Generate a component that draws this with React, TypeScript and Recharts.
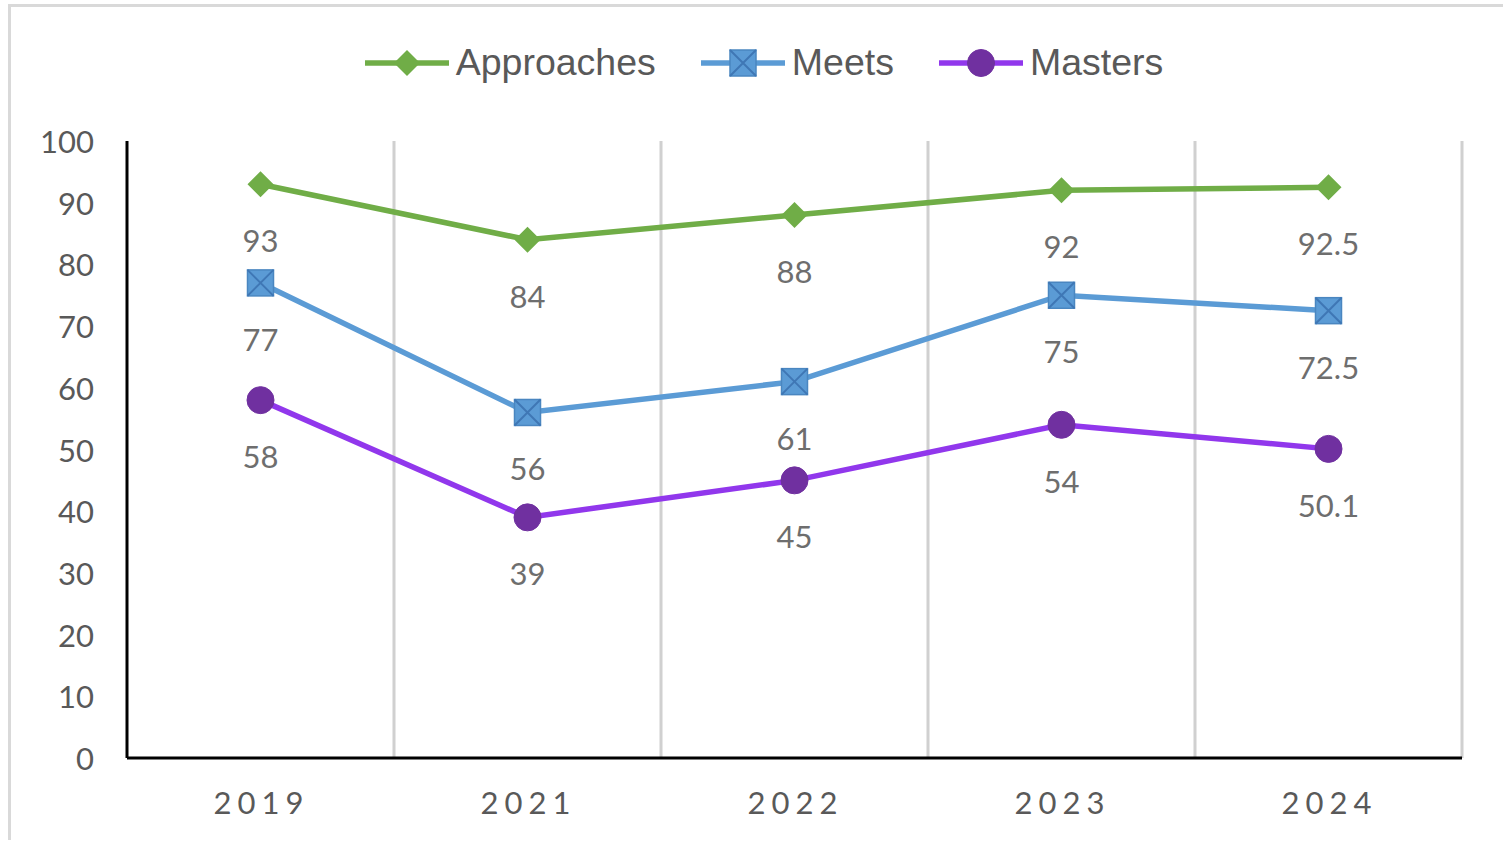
import { LineChart, Line, XAxis, YAxis, ReferenceLine, Legend, LabelList } from "recharts";

const years = ["2019", "2021", "2022", "2023", "2024"];
const approaches = [93, 84, 88, 92, 92.5];
const meets = [77, 56, 61, 75, 72.5];
const masters = [58, 39, 45, 54, 50.1];
const yTicks = [0, 10, 20, 30, 40, 50, 60, 70, 80, 90, 100];
const gridAt = [1, 2, 3, 4, 5];

const data = years.map((year, i) => ({
    year,
    idx: i + 0.5,
    approaches: approaches[i],
    meets: meets[i],
    masters: masters[i],
}));

const GREEN = "#70ad47";
const BLUE = "#5b9bd5";
const PURPLE = "#9137ec";
const PURPLE_DARK = "#7030a0";
const TICK = "#595959";
const LABEL = "#6e6e6e";

const Diamond = (props: any) => {
    const { cx, cy } = props;
    if (cx == null || cy == null) return null;
    const r = 13;
    return <path d={`M${cx},${cy - r}L${cx + r},${cy}L${cx},${cy + r}L${cx - r},${cy}Z`} fill={GREEN} />;
};

const XSquare = (props: any) => {
    const { cx, cy } = props;
    if (cx == null || cy == null) return null;
    const h = 13;
    return (
        <g>
            <rect x={cx - h} y={cy - h} width={h * 2} height={h * 2} fill={BLUE} stroke="#4a86c0" strokeWidth={1.5} />
            <path d={`M${cx - h},${cy - h}L${cx + h},${cy + h}M${cx + h},${cy - h}L${cx - h},${cy + h}`} stroke="#3f77b5" strokeWidth={2} />
        </g>
    );
};

const Dot = (props: any) => {
    const { cx, cy } = props;
    if (cx == null || cy == null) return null;
    return <circle cx={cx} cy={cy} r={13.5} fill={PURPLE_DARK} stroke={PURPLE_DARK} />;
};

const BelowLabel = (props: any) => {
    const { x, y, value } = props;
    return (
        <text x={x} y={y + 56} textAnchor="middle" dominantBaseline="central" fill={LABEL} fontSize={31} fontFamily="Lato, sans-serif">
            {value}
        </text>
    );
};

const YTick = (props: any) => {
    const { x, y, payload } = props;
    return (
        <text x={x - 31} y={y} textAnchor="end" dominantBaseline="central" fill={TICK} fontSize={31} fontFamily="Lato, sans-serif">
            {payload.value}
        </text>
    );
};

const XTick = (props: any) => {
    const { x, y, payload } = props;
    return (
        <text x={x + 1} y={y + 42} textAnchor="middle" dominantBaseline="central" fill={TICK} fontSize={31} fontFamily="Lato, sans-serif" letterSpacing={6}>
            {payload.value}
        </text>
    );
};

const legendItems = [
    { name: "Approaches", color: GREEN, marker: "diamond" },
    { name: "Meets", color: BLUE, marker: "square" },
    { name: "Masters", color: PURPLE, marker: "circle" },
];

const LegendContent = () => (
    <div style={{ display: "flex", justifyContent: "center", alignItems: "center", gap: 44, paddingLeft: 24, fontFamily: "'Liberation Sans', Arial, sans-serif", fontSize: 37.5, color: TICK }}>
        {legendItems.map((it) => (
            <div key={it.name} style={{ display: "flex", alignItems: "center" }}>
                <svg width={86} height={30} style={{ marginRight: 6 }}>
                    <line x1={1} y1={15} x2={85} y2={15} stroke={it.color} strokeWidth={5.5} />
                    {it.marker === "diamond" && <Diamond cx={43} cy={15} />}
                    {it.marker === "square" && <XSquare cx={43} cy={15} />}
                    {it.marker === "circle" && <Dot cx={43} cy={15} />}
                </svg>
                <span>{it.name}</span>
            </div>
        ))}
    </div>
);

export default function App() {
    return (
        <div style={{ position: "absolute", left: 0, top: 0, width: 1503, height: 844, background: "#fff" }}>
            <div style={{ position: "absolute", left: 8, top: 4, width: 1495, height: 836, borderLeft: "3px solid #d9d9d9", borderTop: "3px solid #d9d9d9", boxSizing: "border-box" }} />
            <LineChart width={1503} height={844} data={data} margin={{ top: 98, right: 41, bottom: 26, left: 0 }} style={{ position: "absolute", left: 0, top: 0 }}>
                <XAxis xAxisId="cat" dataKey="year" scale="band" height={60} tickLine={false} tickSize={0} axisLine={{ stroke: "#000", strokeWidth: 3 }} tick={<XTick />} interval={0} />
                <XAxis xAxisId="num" type="number" dataKey="idx" domain={[0, 5]} hide />
                <YAxis domain={[0, 100]} ticks={yTicks} width={127} tickLine={false} tickSize={0} axisLine={{ stroke: "#000", strokeWidth: 3 }} tick={<YTick />} interval={0} />
                {gridAt.map((g) => (
                    <ReferenceLine key={g} xAxisId="num" x={g} stroke="#d0d0d0" strokeWidth={3} />
                ))}
                <Legend verticalAlign="top" content={<LegendContent />} wrapperStyle={{ top: 41, left: 0, width: 1503 }} />
                <Line xAxisId="cat" dataKey="approaches" name="Approaches" stroke={GREEN} strokeWidth={5.5} dot={<Diamond />} activeDot={false} isAnimationActive={false}>
                    <LabelList dataKey="approaches" content={<BelowLabel />} />
                </Line>
                <Line xAxisId="cat" dataKey="meets" name="Meets" stroke={BLUE} strokeWidth={5.5} dot={<XSquare />} activeDot={false} isAnimationActive={false}>
                    <LabelList dataKey="meets" content={<BelowLabel />} />
                </Line>
                <Line xAxisId="cat" dataKey="masters" name="Masters" stroke={PURPLE} strokeWidth={5.5} dot={<Dot />} activeDot={false} isAnimationActive={false}>
                    <LabelList dataKey="masters" content={<BelowLabel />} />
                </Line>
            </LineChart>
        </div>
    );
}
